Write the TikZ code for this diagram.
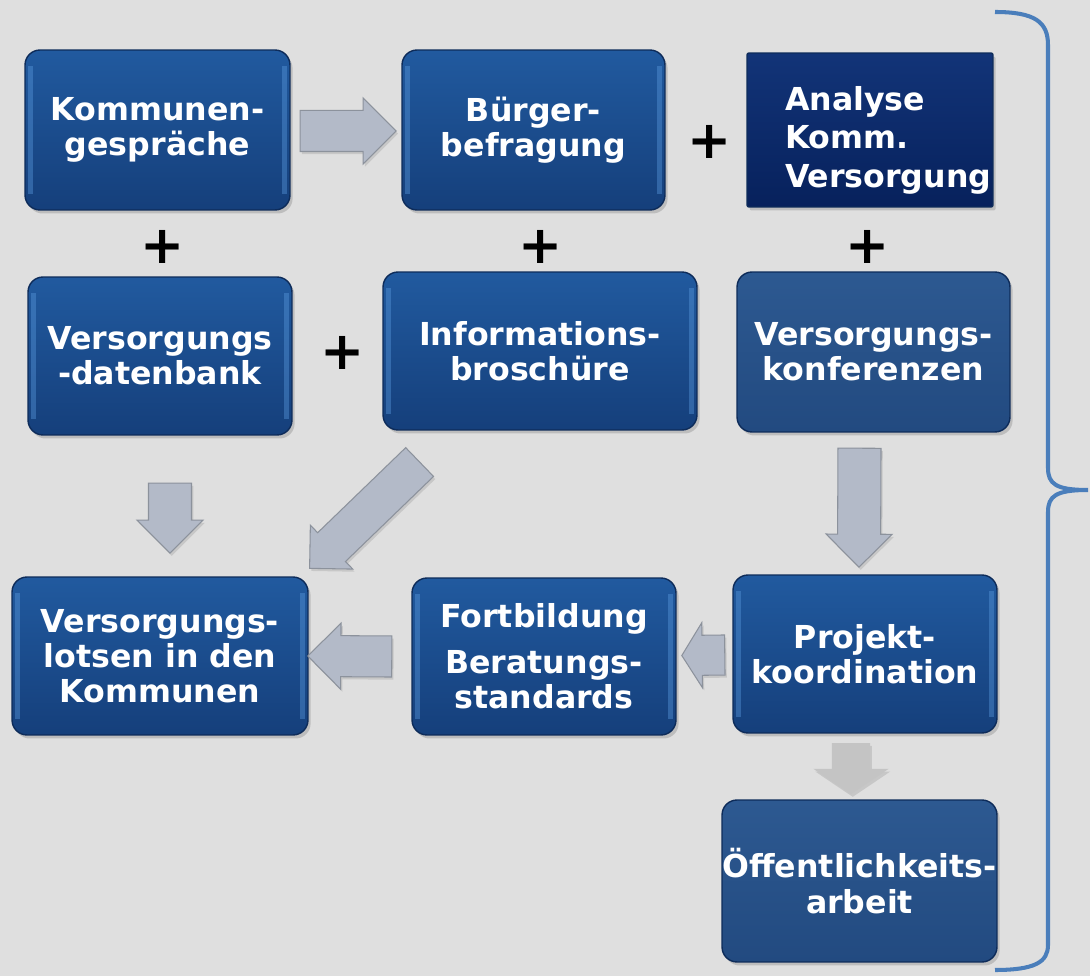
\documentclass[tikz,border=0pt]{standalone}
\usepackage{fontspec}
\setmainfont{DejaVu Sans}
\usepackage{xcolor}
\usepackage{tikz}
\usetikzlibrary{shapes.arrows, shadows, calc}

\definecolor{bggray}{HTML}{DFDFDF}
\definecolor{boxtop}{HTML}{215A9F}
\definecolor{boxbot}{HTML}{153F7B}
\definecolor{boxedge}{HTML}{0E2C5A}
\definecolor{edgehi}{HTML}{5B9BDF}
\definecolor{navytop}{HTML}{123478}
\definecolor{navybot}{HTML}{07215C}
\definecolor{paletop}{HTML}{2D5991}
\definecolor{palebot}{HTML}{224A80}
\definecolor{arrowfill}{HTML}{B3BAC8}
\definecolor{arrowedge}{HTML}{8C929C}
\definecolor{plaingray}{HTML}{C4C4C4}
\definecolor{braceblue}{HTML}{4A7EBB}

\tikzset{
    panel/.style={rectangle, rounded corners=0.3cm, draw=boxedge, line width=0.8pt,
        top color=boxtop, bottom color=boxbot, text=white, align=center, inner sep=0pt,
        font=\fontsize{18}{20}\selectfont\bfseries,
        drop shadow={shadow xshift=1.5pt, shadow yshift=-2pt, opacity=0.35},
        path picture={
            \draw[edgehi, line width=3pt, opacity=0.4]
                ([xshift=3pt, yshift=-9pt]path picture bounding box.north west)
                -- ([xshift=3pt, yshift=9pt]path picture bounding box.south west);
            \draw[edgehi, line width=3pt, opacity=0.4]
                ([xshift=-3pt, yshift=-9pt]path picture bounding box.north east)
                -- ([xshift=-3pt, yshift=9pt]path picture bounding box.south east);
        }},
    navypanel/.style={panel, rounded corners=0.04cm, top color=navytop, bottom color=navybot,
        path picture={}},
    palepanel/.style={panel, top color=paletop, bottom color=palebot, path picture={}},
    plussign/.style={font=\fontsize{30}{30}\selectfont\bfseries, inner sep=0pt},
    blockarrow/.style={single arrow, draw=arrowedge, fill=arrowfill, line width=0.6pt,
        inner xsep=0pt, inner ysep=0.4cm, single arrow head extend=0.25cm,
        single arrow head indent=0pt, anchor=tail, sloped, allow upside down,
        drop shadow={shadow xshift=1pt, shadow yshift=-1.5pt, opacity=0.25}},
}

\begin{document}
\begin{tikzpicture}[x=0.02cm, y=-0.02cm]
    % Background
    \path[use as bounding box, fill=bggray] (0,0) rectangle (1090,976);

    % Top row
    \node[panel, minimum width=5.3cm, minimum height=3.2cm] (kom) at (157.5,130) {Kommunen-\\gespräche};
    \node[panel, minimum width=5.26cm, minimum height=3.2cm] (bef) at (533.5,130) {Bürger-\\befragung};
    \node[navypanel, minimum width=4.92cm, minimum height=3.08cm, align=left, text width=3.4cm,
        inner xsep=0.76cm, font=\fontsize{18}{22}\selectfont\bfseries] (ana) at (870,130)
        {\mbox{}\\[3.5pt]Analyse\\Komm.\\Versorgung};

    % Middle row
    \node[panel, minimum width=5.28cm, minimum height=3.16cm] (dat) at (160,356) {Versorgungs\\-datenbank};
    \node[panel, minimum width=6.28cm, minimum height=3.16cm] (inf) at (540,351) {Informations-\\broschüre};
    \node[palepanel, minimum width=5.46cm, minimum height=3.2cm] (kon) at (873.5,352) {Versorgungs-\\konferenzen};

    % Bottom rows
    \node[panel, minimum width=5.92cm, minimum height=3.16cm] (lot) at (160,656) {Versorgungs-\\lotsen in den\\Kommunen};
    \node[panel, minimum width=5.28cm, minimum height=3.14cm] (fort) at (544,656.5) {Fortbildung\\[6pt]Beratungs-\\standards};
    \node[panel, minimum width=5.28cm, minimum height=3.16cm] (pro) at (865,654) {Projekt-\\koordination};
    \node[palepanel, minimum width=5.5cm, minimum height=3.24cm] (oef) at (859.5,881) {Öffentlichkeits-\\arbeit};

    % Plus signs
    \node[plussign] (p1) at (710,142) {+};
    \node[plussign] (p2) at (163,247) {+};
    \node[plussign] (p3) at (541,247) {+};
    \node[plussign] (p4) at (868,247) {+};
    \node[plussign] (p5) at (343,353) {+};

    % Block arrows
    \path ($(kom.east)+(9,1)$) -- ($(bef.west)+(-7,1)$)
        node[blockarrow, pos=0, minimum height=1.92cm] (a1) {};
    \path ($(dat.south)+(10,47)$) -- ($(lot.north)+(10,-25)$)
        node[blockarrow, pos=0, minimum height=1.4cm, inner ysep=0.42cm, single arrow head extend=0.23cm] (a2) {};
    \path ($(inf.south)+(-120,31)$) -- ($(lot.north east)+(2,-9)$)
        node[blockarrow, pos=0, minimum height=3.06cm, inner ysep=0.39cm, single arrow head extend=0.21cm] (a3) {};
    \path ($(kon.south)+(-14,15)$) -- ($(pro.north)+(-6,-9)$)
        node[blockarrow, pos=0, minimum height=2.38cm, inner ysep=0.42cm, single arrow head extend=0.23cm] (a4) {};
    \path ($(pro.west)+(-7,1)$) -- ($(fort.east)+(7,-1)$)
        node[blockarrow, pos=0, minimum height=0.86cm, inner ysep=0.39cm, single arrow tip angle=116] (a5) {};
    \path ($(fort.west)+(-19,0)$) -- ($(lot.east)+(1,0)$)
        node[blockarrow, pos=0, minimum height=1.68cm] (a6) {};
    \path ($(pro.south)+(-14,9)$) -- ($(oef.north)+(-8.5,-7)$)
        node[blockarrow, pos=0, draw=none, fill=plaingray, minimum height=1.02cm, inner ysep=0.37cm,
            single arrow head extend=0.37cm, single arrow tip angle=112] (a7) {};

    % Brace on the right
    \draw[braceblue, line width=2.3pt] (995,12) .. controls (1035,12) and (1048,22) .. (1048,45)
        -- (1048,468) .. controls (1048,484) and (1056,490) .. (1088,490)
        .. controls (1056,490) and (1048,496) .. (1048,512)
        -- (1048,945) .. controls (1048,962) and (1035,970) .. (995,970);
\end{tikzpicture}
\end{document}
